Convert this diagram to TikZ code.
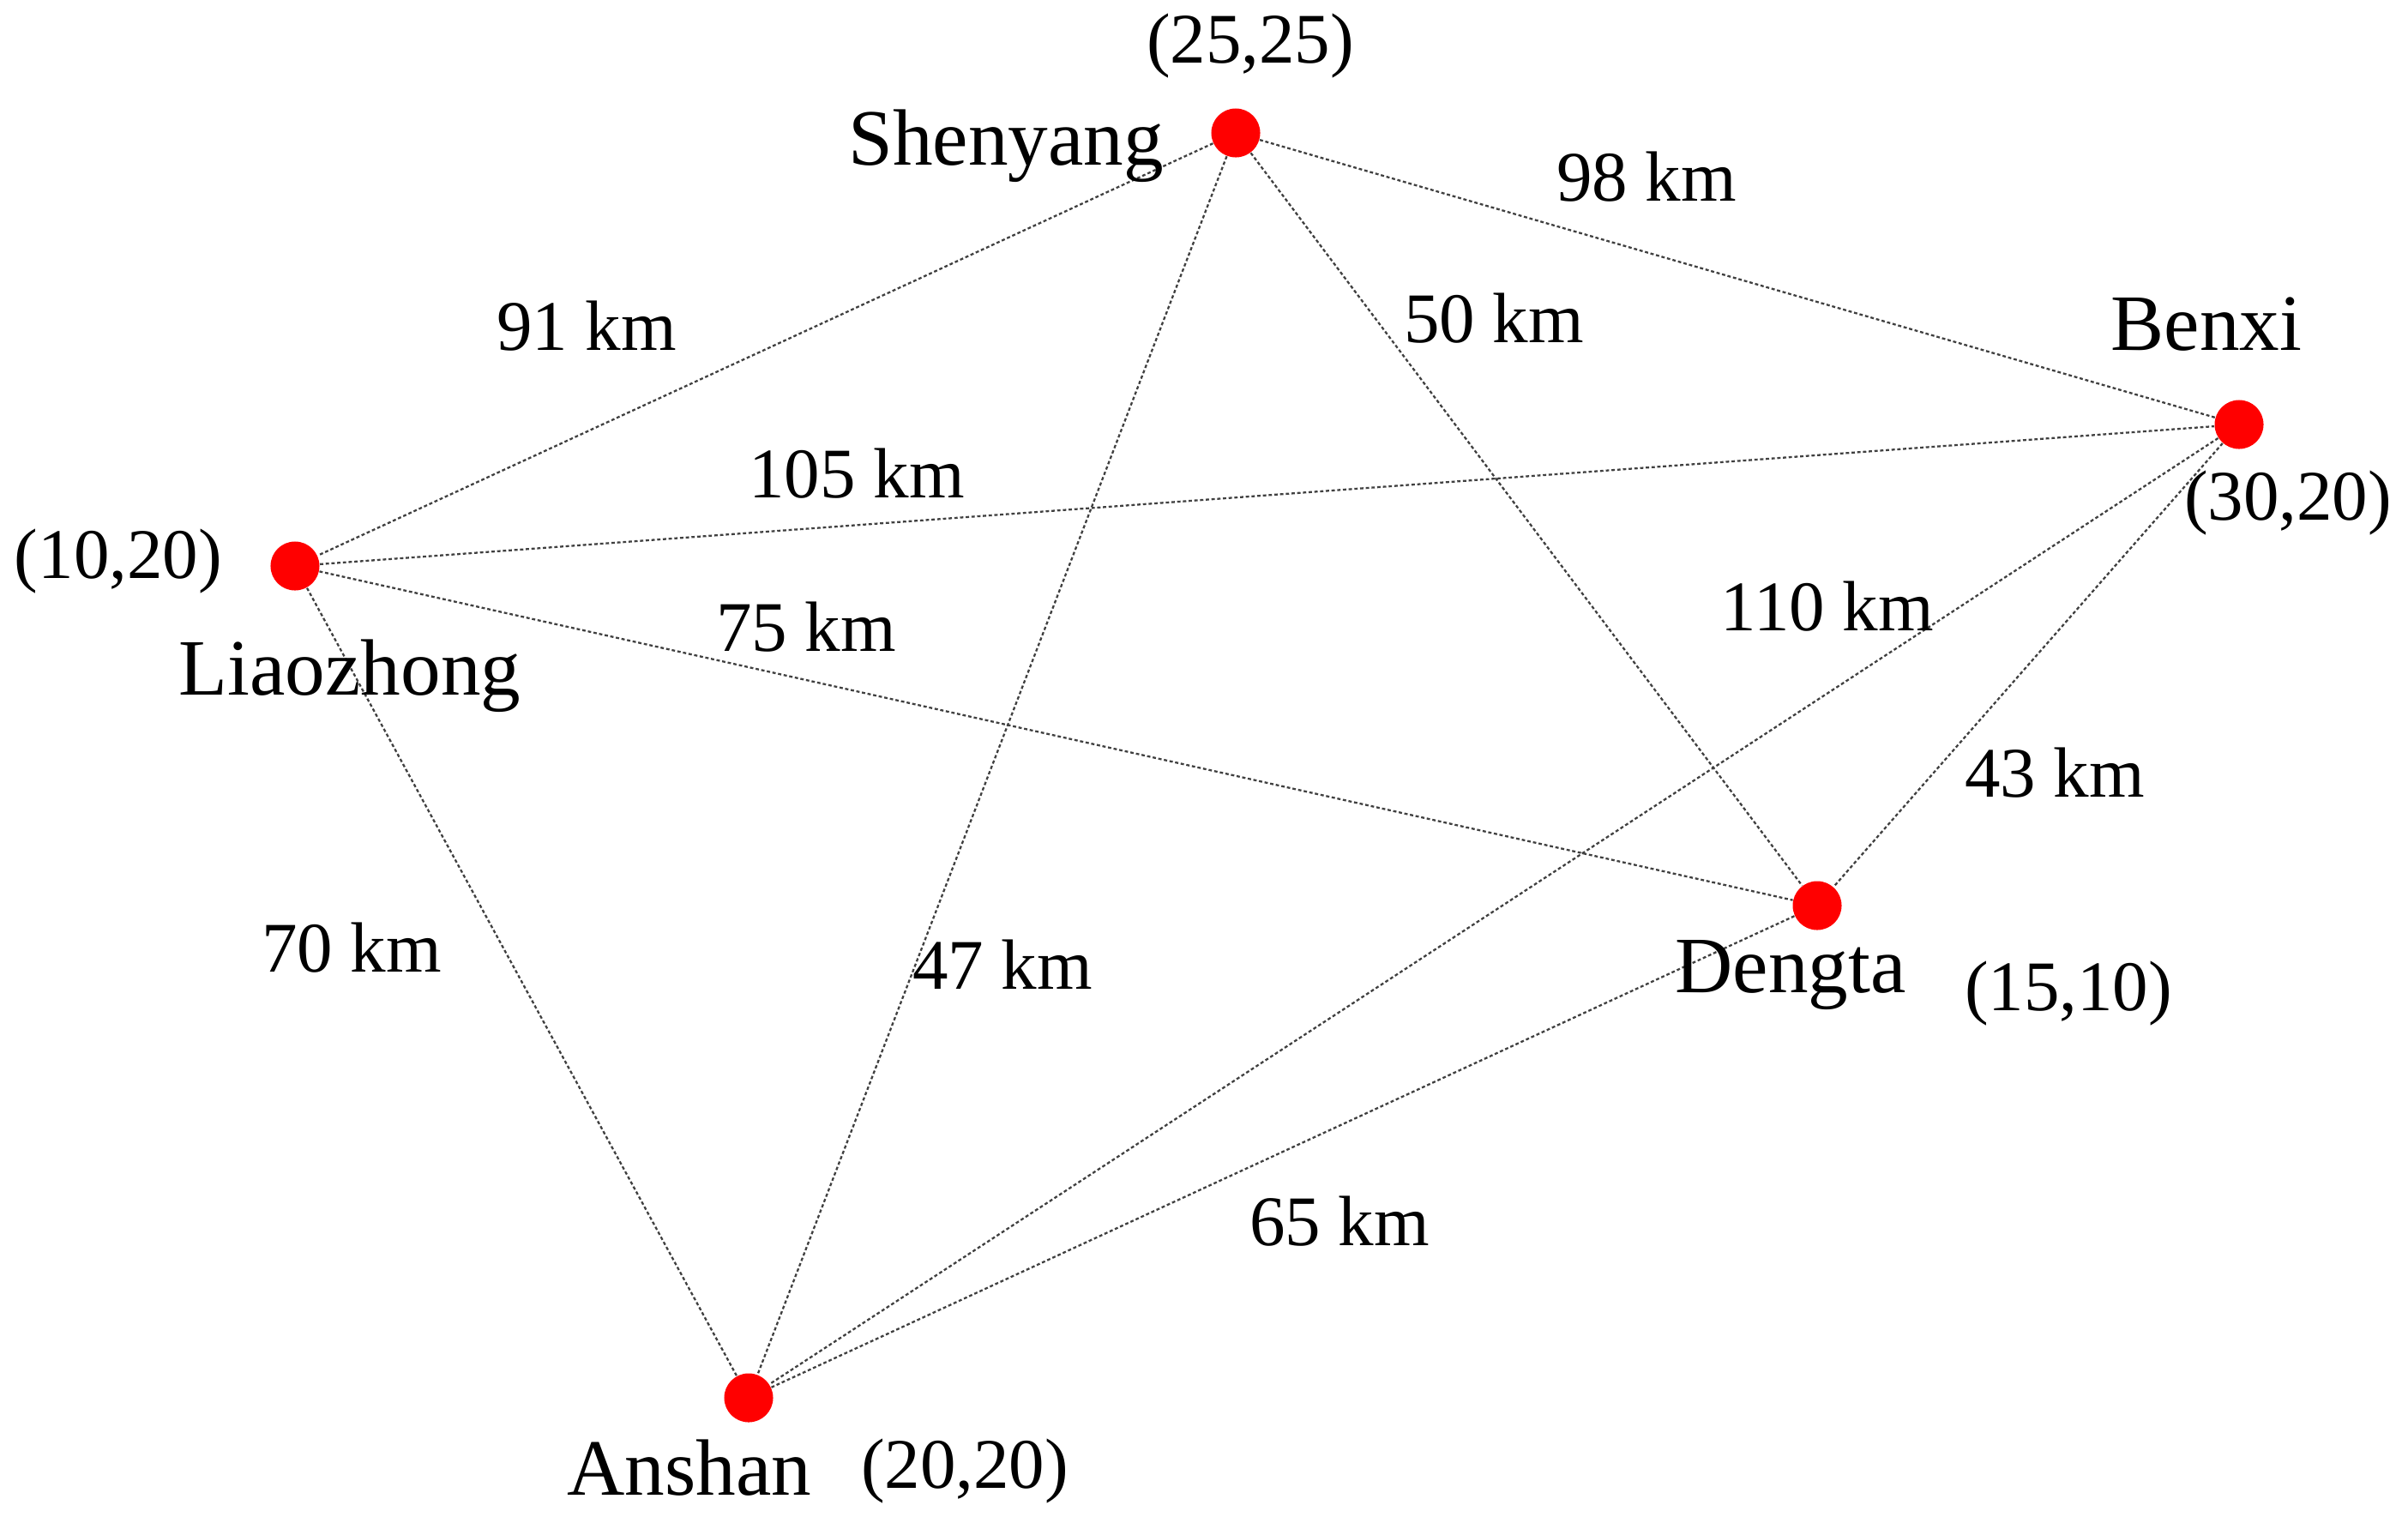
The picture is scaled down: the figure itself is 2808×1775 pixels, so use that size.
\documentclass[tikz,border=0pt]{standalone}
\usepackage{fontspec}
\setmainfont{Liberation Serif}
\begin{document}
\begin{tikzpicture}[x=0.01cm,y=-0.01cm,
  city/.style={circle,fill=red,inner sep=0pt,minimum size=0.57cm},
  road/.style={draw=black!75,line width=0.65pt,dash pattern=on 1.1pt off 0.8pt},
  lbl/.style={font=\fontsize{26.5}{30}\selectfont,inner sep=0pt,anchor=center},
  num/.style={font=\fontsize{23.6}{28}\selectfont,inner sep=0pt,anchor=center}]
\useasboundingbox (0,0) rectangle (2808,1775);
\node[city] (S) at (1441,155) {};
\node[city] (B) at (2611,495) {};
\node[city] (L) at (344,660) {};
\node[city] (D) at (2119,1056) {};
\node[city] (A) at (873,1630) {};
\draw[road] (S) -- (L);
\draw[road] (S) -- (B);
\draw[road] (S) -- (D);
\draw[road] (S) -- (A);
\draw[road] (L) -- (B);
\draw[road] (L) -- (D);
\draw[road] (L) -- (A);
\draw[road] (B) -- (D);
\draw[road] (B) -- (A);
\draw[road] (D) -- (A);
\node[num] (c1) at (1458,54) {(25,25)};
\node[lbl] (n1) at (1173,170) {Shenyang};
\node[num] (e1) at (1920,206) {98 km};
\node[lbl] (n2) at (2573,378) {Benxi};
\node[num] (c2) at (2668,587) {(30,20)};
\node[num] (e2) at (684,380) {91 km};
\node[num] (e3) at (1742,371) {50 km};
\node[num] (e4) at (999,552) {105 km};
\node[num] (c3) at (138,655) {(10,20)};
\node[num] (e5) at (940,731) {75 km};
\node[num] (e6) at (2131,707) {110 km};
\node[lbl] (n3) at (408,788) {Liaozhong};
\node[num] (e7) at (2396,901) {43 km};
\node[num] (e8) at (410,1105) {70 km};
\node[num] (e9) at (1169,1125) {47 km};
\node[lbl] (n4) at (2088,1137) {Dengta};
\node[num] (c4) at (2412,1159) {(15,10)};
\node[num] (e10) at (1562,1424) {65 km};
\node[lbl] (n5) at (804,1712) {Anshan};
\node[num] (c5) at (1125,1716) {(20,20)};
\end{tikzpicture}
\end{document}
